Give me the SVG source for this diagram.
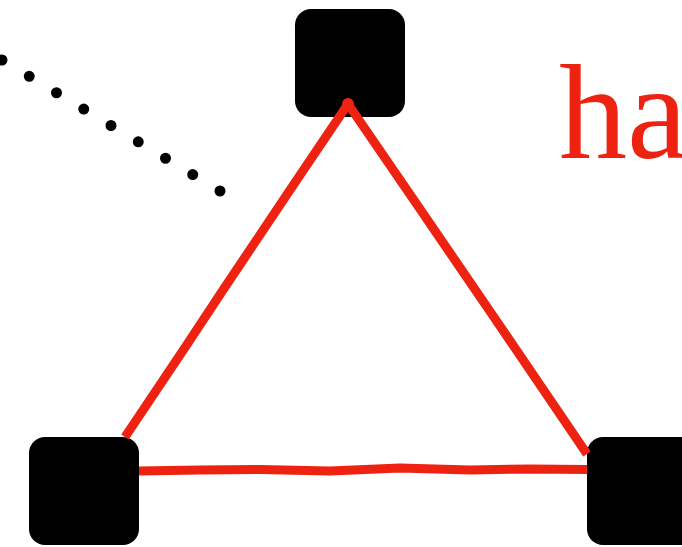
<svg xmlns="http://www.w3.org/2000/svg" width="682" height="547" viewBox="0 0 682 547">
  <style>
    .node { fill: #000; }
    .edge { fill: none; stroke: #ee2211; stroke-width: 9; stroke-linejoin: round; stroke-linecap: butt; }
    .dots { fill: none; stroke: #000; stroke-width: 11; stroke-linecap: round; stroke-dasharray: 0 31.79; }
    .label { fill: #ee2211; font-family: "Liberation Serif", "DejaVu Serif", serif; font-size: 136px; }
  </style>
  <rect width="682" height="547" fill="#fff"/>
  <g id="node-top"><rect class="node" x="295" y="9" width="110" height="108" rx="16"/></g>
  <g id="node-left"><rect class="node" x="29" y="437" width="110" height="108" rx="16"/></g>
  <g id="node-right"><rect class="node" x="587" y="437" width="110" height="108" rx="16"/></g>
  <g id="connectors">
    <path class="edge" d="M125,437 L186,346 L223,290 L290,190 L348,104 L420,209 L500,326 L587,454"/>
    <circle cx="348" cy="104" r="6" fill="#ee2211"/>
    <path class="edge" d="M139,471 L200,470 L260,469.5 L330,471 L400,468 L470,470 L530,469 L587,469.5"/>
    <path class="dots" d="M2,60 L220,191"/>
  </g>
  <g id="text">
    <text class="label" x="559" y="158">ha</text>
  </g>
</svg>
